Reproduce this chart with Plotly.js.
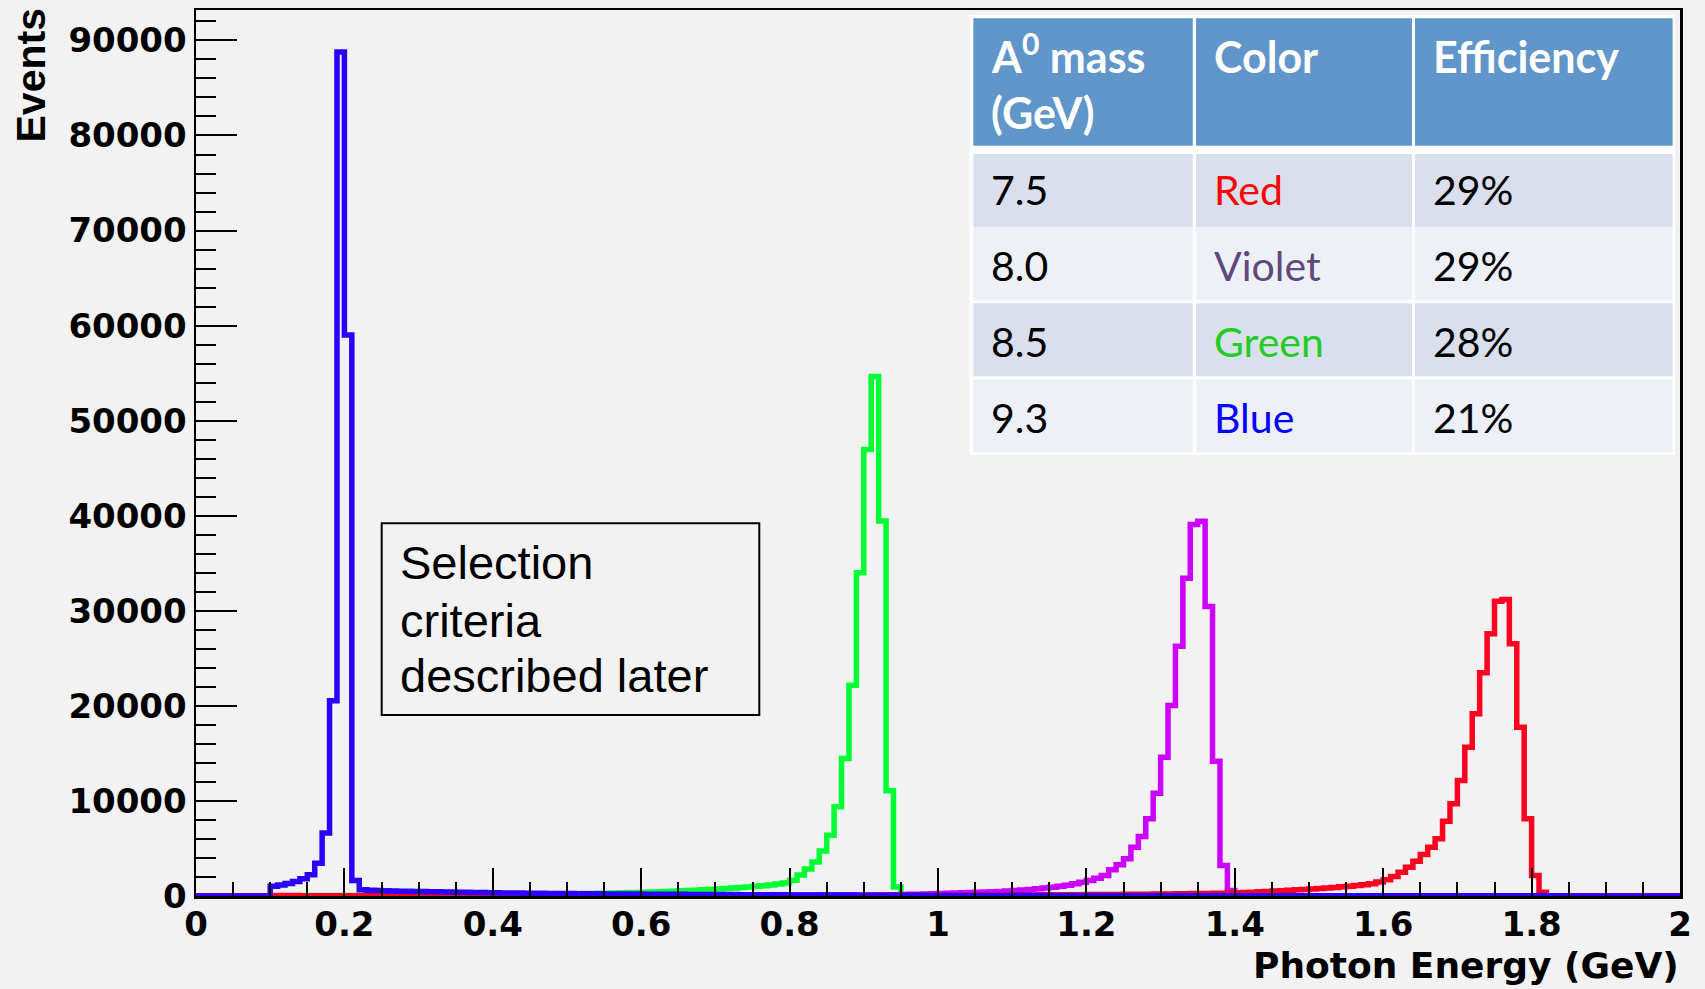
<!DOCTYPE html>
<html><head><meta charset="utf-8">
<script src="https://cdn.plot.ly/plotly-3.0.1.min.js"></script>
<style>html,body{margin:0;padding:0;background:#f2f2f2;}#chart{width:1705px;height:989px;}</style>
</head><body><div id="chart"></div>
<script>
// Histogram binning (ROOT TH1: 200 bins from 0 to 2 GeV)
const binLow = 0.0;
const binWidth = 0.01;

// Bin contents (one value per 0.01 GeV bin, 10 bins per row)
const blueCounts = [
0,0,0,0,0,0,0,0,0,0,
1030,1160,1320,1520,1810,2240,3440,6640,20540,88790,
59010,1630,650,610,580,550,530,510,495,480,
465,450,437,424,411,398,386,374,362,350,
338,327,316,306,297,289,281,273,266,259,
252,246,240,234,228,222,217,212,207,202,
197,192,187,182,178,174,170,166,162,158,
154,150,146,142,138,134,130,127,124,121,
118,115,112,109,106,103,100,97,94,91,
88,85,82,79,76,73,70,67,65,63,
61,59,57,55,53,51,49,47,46,45,
44,43,42,41,40,39,38,37,36,35,
34,34,33,33,32,32,31,31,30,30,
29,29,28,28,27,27,26,26,25,25,
25,24,24,24,23,23,23,22,22,22,
21,21,21,20,20,20,20,19,19,19,
19,18,18,18,18,17,17,17,17,16,
16,16,16,16,15,15,15,15,15,14,
14,14,14,14,14,13,13,13,13,13,
13,12,12,12,12,12,12,11,11,11];

const greenCounts = [
0,0,0,0,0,0,0,0,0,0,
30,32,34,36,38,40,42,44,46,48,
50,52,55,58,61,64,67,70,73,76,
80,84,88,93,98,103,108,113,119,124,
130,137,145,153,162,171,181,192,203,214,
225,238,252,267,283,300,318,337,357,378,
400,425,450,478,508,540,575,612,652,695,
740,785,835,890,950,1015,1085,1160,1250,1370,
1650,2200,2830,3570,4730,6390,9390,14460,22170,34000,
46960,54660,39450,11080,940,0,0,0,0,0,
0,0,0,0,0,0,0,0,0,0,
0,0,0,0,0,0,0,0,0,0,
0,0,0,0,0,0,0,0,0,0,
0,0,0,0,0,0,0,0,0,0,
0,0,0,0,0,0,0,0,0,0,
0,0,0,0,0,0,0,0,0,0,
0,0,0,0,0,0,0,0,0,0,
0,0,0,0,0,0,0,0,0,0,
0,0,0,0,0,0,0,0,0,0,
0,0,0,0,0,0,0,0,0,0];

const violetCounts = [
0,0,0,0,0,0,0,0,0,0,
28,29,29,30,30,30,31,31,31,32,
32,32,33,33,33,34,34,34,35,35,
35,36,36,37,37,37,38,38,39,39,
40,40,41,41,42,43,43,44,45,45,
46,47,48,49,50,51,52,53,54,55,
56,57,58,59,60,61,62,63,64,65,
66,67,68,69,70,71,72,73,74,75,
76,77,78,79,80,81,82,83,85,88,
95,105,115,127,140,155,172,190,210,232,
255,280,305,330,357,385,415,448,485,525,
570,620,680,750,830,920,1020,1140,1280,1440,
1620,1870,2160,2760,3280,3910,5130,6260,8120,10820,
14600,20040,26280,33430,39080,39430,30460,14180,3210,580,
0,0,0,0,0,0,0,0,0,0,
0,0,0,0,0,0,0,0,0,0,
0,0,0,0,0,0,0,0,0,0,
0,0,0,0,0,0,0,0,0,0,
0,0,0,0,0,0,0,0,0,0,
0,0,0,0,0,0,0,0,0,0];

const redCounts = [
0,0,0,0,0,0,0,0,0,0,
42,41,40,40,39,39,38,38,38,37,
37,37,37,36,36,36,36,36,36,36,
36,36,36,36,36,37,37,37,37,38,
38,38,39,39,39,40,40,41,41,42,
42,43,43,44,44,45,45,46,46,47,
47,48,48,49,50,50,51,52,52,53,
54,54,55,56,57,57,58,59,60,61,
62,63,64,65,66,67,68,69,70,71,
72,73,74,75,77,78,79,81,82,84,
86,88,90,92,94,96,98,101,103,106,
109,112,115,118,122,126,130,134,138,143,
148,153,158,164,170,176,183,190,197,205,
213,222,231,241,251,262,274,286,299,313,
336,367,400,436,474,514,556,600,646,694,
744,796,850,906,965,1030,1100,1180,1300,1460,
1720,2050,2500,3030,3660,4370,5130,6020,7870,9700,
12150,15650,19170,23480,27580,31010,31190,26530,17760,8120,
2160,400,0,0,0,0,0,0,0,0,
0,0,0,0,0,0,0,0,0,0];

// Drawing order: green, violet, red, blue (blue on top)
const seriesNames = ['Green', 'Violet', 'Red', 'Blue'];
const seriesColors = ['#00ff33', '#cc00ff', '#ff0020', '#2a00ff'];
const seriesCounts = [greenCounts, violetCounts, redCounts, blueCounts];

const xTickVals = [0, 0.2, 0.4, 0.6, 0.8, 1, 1.2, 1.4, 1.6, 1.8, 2];
const xTickText = ['0', '0.2', '0.4', '0.6', '0.8', '1', '1.2', '1.4', '1.6', '1.8', '2'];
const yTickVals = [0, 10000, 20000, 30000, 40000, 50000, 60000, 70000, 80000, 90000];
const yTickText = ['0', '10000', '20000', '30000', '40000', '50000', '60000', '70000', '80000', '90000'];

// Table content
const tableHeader = ['A<sup>0</sup> mass', 'Color', 'Efficiency'];
const tableHeaderLine2 = ['(GeV)', '', ''];
const massValues = ['7.5', '8.0', '8.5', '9.3'];
const colorNames = ['Red', 'Violet', 'Green', 'Blue'];
const colorNameColors = ['#ff0000', '#5f497a', '#22cc22', '#0000ff'];
const efficiencies = ['29%', '29%', '28%', '21%'];

const noteLines = ['Selection', 'criteria', 'described later'];
</script>
<script>
function binEdges(n) {
  const e = [];
  for (let i = 0; i <= n; i++) e.push(+(binLow + i * binWidth).toFixed(4));
  return e;
}

const traces = seriesCounts.map((c, k) => ({
  type: 'scatter', mode: 'lines', name: seriesNames[k],
  x: binEdges(c.length), y: c.concat([c[c.length - 1]]),
  line: {shape: 'hv', color: seriesColors[k], width: 5.5},
  hoverinfo: 'skip', showlegend: false
}));

// page geometry (pixels) -> paper coordinates
const W = 1705, H = 989;
const plotL = 196, plotR = 1680, plotT = 10, plotB = 896;
const px = v => (v - plotL) / (plotR - plotL);
const py = v => (plotB - v) / (plotB - plotT);

const shapes = [];
const annotations = [];

// --- table (PowerPoint style), built from the table arrays ---
const tbl = {
  outer: [969.5, 15, 1675, 455],
  colLeft: [973.3, 1196, 1415],
  colRight: [1192.8, 1412, 1672.6],
  headerTop: 18.3, headerBottom: 145.7,
  rowTop: [154, 227.3, 303.3, 379.3], rowH: 73,
  headerFill: '#6096c9', band: ['#d9dfec', '#edf0f6'],
  textInset: 17, headerBase: [74, 130], bodyBase0: 206.7, bodyPitch: 76
};
function rect(x0, y0, x1, y1, fill) {
  shapes.push({type: 'rect', xref: 'paper', yref: 'paper', layer: 'above',
    x0: px(x0), x1: px(x1), y0: py(y1), y1: py(y0),
    line: {width: 0}, fillcolor: fill});
}
function label(text, xPix, baseline, size, color, bold) {
  annotations.push({text: bold ? '<b>' + text + '</b>' : text,
    xref: 'paper', yref: 'paper', x: px(xPix), y: py(baseline + 0.213 * size),
    xanchor: 'left', yanchor: 'bottom', showarrow: false, borderpad: 0,
    font: {family: 'Lato', size: size, color: color}});
}
rect(tbl.outer[0], tbl.outer[1], tbl.outer[2], tbl.outer[3], '#ffffff');
const bodyCols = [massValues, colorNames, efficiencies];
for (let c = 0; c < 3; c++) {
  rect(tbl.colLeft[c], tbl.headerTop, tbl.colRight[c], tbl.headerBottom, tbl.headerFill);
  label(tableHeader[c], tbl.colLeft[c] + tbl.textInset, tbl.headerBase[0], 43, '#ffffff', true);
  if (tableHeaderLine2[c]) label(tableHeaderLine2[c], tbl.colLeft[c] + tbl.textInset, tbl.headerBase[1], 43, '#ffffff', true);
  for (let r = 0; r < massValues.length; r++) {
    rect(tbl.colLeft[c], tbl.rowTop[r], tbl.colRight[c], tbl.rowTop[r] + tbl.rowH, tbl.band[r % 2]);
    const col = c === 1 ? colorNameColors[r] : '#000000';
    label(bodyCols[c][r], tbl.colLeft[c] + tbl.textInset, tbl.bodyBase0 + r * tbl.bodyPitch, 41, col, false);
  }
}

// --- text box ---
shapes.push({type: 'rect', xref: 'paper', yref: 'paper',
  x0: px(381.7), x1: px(759.3), y0: py(715), y1: py(523.3),
  line: {color: '#000', width: 2}, fillcolor: 'rgba(0,0,0,0)'});
const noteBaselines = [579.3, 636.7, 691.7];
noteLines.forEach((t, i) => annotations.push({
  text: t, xref: 'paper', yref: 'paper', x: px(399.3), y: py(noteBaselines[i] - 16.3),
  xanchor: 'left', yanchor: 'middle', showarrow: false, borderpad: 0,
  font: {family: 'Liberation Sans', size: 47, color: '#000'}
}));

// --- axis titles (ROOT places them at the axis ends) ---
annotations.push({text: 'Photon Energy (GeV)', xref: 'paper', yref: 'paper', x: 1, y: py(965),
  xanchor: 'right', yanchor: 'middle', showarrow: false, borderpad: 0,
  font: {family: 'DejaVu Sans', size: 36, weight: 'bold', color: '#000'}});
annotations.push({text: 'Events', xref: 'paper', yref: 'paper', x: px(30.5), y: py(8), textangle: -90,
  xanchor: 'center', yanchor: 'top', showarrow: false, borderpad: 0,
  font: {family: 'Liberation Sans', size: 41, weight: 'bold', color: '#000'}});

const axisFont = {family: 'DejaVu Sans', size: 34, weight: 'bold', color: '#000'};
const layout = {
  width: W, height: H,
  paper_bgcolor: '#f2f2f2', plot_bgcolor: '#f2f2f2',
  margin: {l: plotL, r: W - plotR, t: plotT, b: H - plotB, pad: 0},
  showlegend: false,
  xaxis: {
    range: [0, 2], tickmode: 'array', tickvals: xTickVals, ticktext: xTickText,
    ticks: 'inside', ticklen: 28, tickwidth: 2, tickcolor: '#000',
    minor: {dtick: 0.05, ticks: 'inside', ticklen: 14, tickwidth: 2, tickcolor: '#000', showgrid: false},
    showline: true, linecolor: '#000', linewidth: 2.5, mirror: true,
    showgrid: false, zeroline: false, ticklabelstandoff: -3,
    tickfont: axisFont
  },
  yaxis: {
    range: [0, 93200], tickmode: 'array', tickvals: yTickVals, ticktext: yTickText,
    ticks: 'inside', ticklen: 41, tickwidth: 2, tickcolor: '#000',
    minor: {dtick: 2000, ticks: 'inside', ticklen: 20, tickwidth: 2, tickcolor: '#000', showgrid: false},
    showline: true, linecolor: '#000', linewidth: 2.5, mirror: true,
    showgrid: false, zeroline: false, ticklabelstandoff: 0,
    tickfont: axisFont
  },
  shapes: shapes,
  annotations: annotations
};

Plotly.newPlot('chart', traces, layout, {displayModeBar: false, staticPlot: true});
</script>
</body></html>
